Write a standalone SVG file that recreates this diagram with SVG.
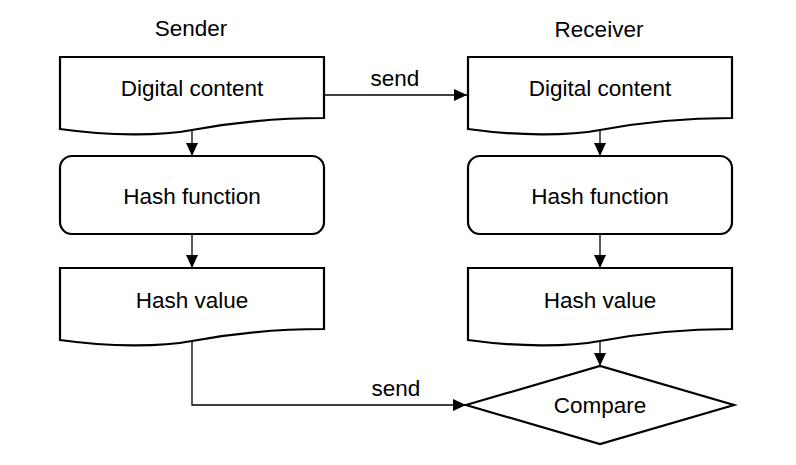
<svg xmlns="http://www.w3.org/2000/svg" width="796" height="465" viewBox="0 0 796 465">
  <defs>
    <marker id="arrow" markerUnits="userSpaceOnUse" markerWidth="14" markerHeight="12" refX="13" refY="6" orient="auto">
      <path d="M0,0 L13,6 L0,12 z" fill="#000"/>
    </marker>
    <style>
      .shape { fill: #fff; stroke: #000; stroke-width: 2.2; stroke-linejoin: miter; }
      .conn { fill: none; stroke: #000; stroke-width: 1.3; marker-end: url(#arrow); }
      text { font-family: "Liberation Sans", Arial, sans-serif; font-size: 22.5px; fill: #000; text-anchor: middle; }
    </style>
  </defs>
  <rect width="796" height="465" fill="#fff"/>

  <g id="title-sender"><text x="191" y="36">Sender</text></g>
  <g id="title-receiver"><text x="599" y="37">Receiver</text></g>

  <g id="sender-content">
    <path class="shape" d="M60,57 H324 V118 C284,118 240,121 192,130 C160,136 110,136 60,129 Z"/>
    <text x="192" y="96">Digital content</text>
  </g>
  <g id="sender-hash-function">
    <rect class="shape" x="60" y="156" width="264" height="78" rx="12" ry="12"/>
    <text x="192" y="204">Hash function</text>
  </g>
  <g id="sender-hash-value">
    <path class="shape" d="M60,268 H324 V329 C284,329 240,332 192,341 C160,347 110,347 60,340 Z"/>
    <text x="192" y="308">Hash value</text>
  </g>

  <g id="receiver-content">
    <path class="shape" d="M468,57 H732 V118 C692,118 648,121 600,130 C568,136 518,136 468,129 Z"/>
    <text x="600" y="96">Digital content</text>
  </g>
  <g id="receiver-hash-function">
    <rect class="shape" x="468" y="156" width="264" height="78" rx="12" ry="12"/>
    <text x="600" y="204">Hash function</text>
  </g>
  <g id="receiver-hash-value">
    <path class="shape" d="M468,268 H732 V329 C692,329 648,332 600,341 C568,347 518,347 468,340 Z"/>
    <text x="600" y="308">Hash value</text>
  </g>
  <g id="compare">
    <path class="shape" d="M466,405 L600,366 L734,405 L600,444 Z"/>
    <text x="600" y="413">Compare</text>
  </g>

  <g id="connectors">
    <path class="conn" d="M324,95 H467"/>
    <text x="395" y="86">send</text>
    <path class="conn" d="M192,131 V156"/>
    <path class="conn" d="M192,234 V268"/>
    <path class="conn" d="M600,131 V156"/>
    <path class="conn" d="M600,234 V268"/>
    <path class="conn" d="M600,341 V366"/>
    <path class="conn" d="M192,341 V405 H466"/>
    <text x="396" y="396">send</text>
  </g>
</svg>
